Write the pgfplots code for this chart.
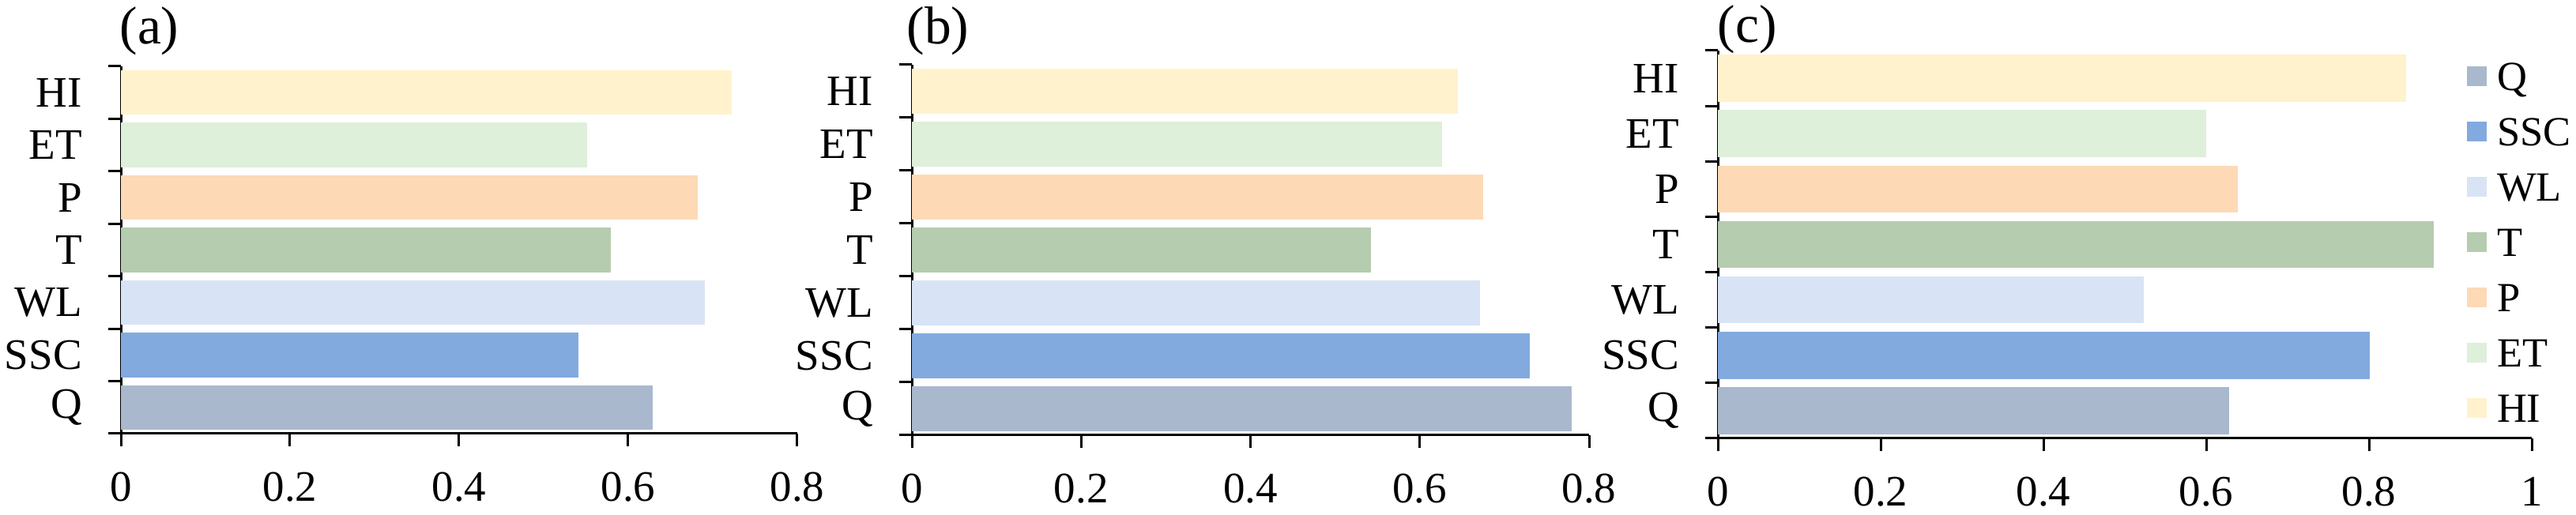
\documentclass[border=0pt]{standalone}
\usepackage{fontspec}
\setmainfont{Liberation Serif}
\usepackage{pgfplots}
\pgfplotsset{compat=1.18}
\definecolor{cQ}{RGB}{169,184,204}
\definecolor{cSSC}{RGB}{130,170,222}
\definecolor{cWL}{RGB}{216,228,245}
\definecolor{cT}{RGB}{181,204,174}
\definecolor{cP}{RGB}{253,217,181}
\definecolor{cET}{RGB}{222,239,218}
\definecolor{cHI}{RGB}{255,242,204}
\pgfplotsset{
  sq/.style={legend image code/.code={\fill[##1] (0pt,-2.5pt) rectangle (5pt,2.5pt);}},
  panel/.style={
    scale only axis, xbar,
    every axis plot/.append style={bar shift=0pt, bar width=0.85, draw=none},
    xmin=0, ymin=-0.5, ymax=6.5,
    axis lines*=left,
    axis line style={line width=0.6pt, black},
    tick align=outside, major tick length=3.3pt,
    tick style={line width=0.6pt, black},
    ytick={-0.5,0.5,1.5,2.5,3.5,4.5,5.5,6.5}, yticklabels={},
    extra y ticks={0,1,2,3,4,5,6},
    extra y tick labels={Q,SSC,WL,T,P,ET,HI},
    extra y tick style={major tick length=0pt, yticklabel style={xshift=-6.3pt}},
    ticklabel style={font=\fontsize{11}{13}\selectfont},
    xticklabel style={yshift=-3pt},
    /pgf/number format/assume math mode=true,
  }
}
\begin{document}
\begin{tikzpicture}
\useasboundingbox (0,0) rectangle (652pt,130.4pt);
% (a)
\begin{axis}[panel, at={(30.6pt,20.6pt)}, anchor=south west,
  width=171.2pt, height=93pt, xmax=0.8, xtick={0,0.2,0.4,0.6,0.8}]
\addplot[fill=cQ]   coordinates {(0.629,0)};
\addplot[fill=cSSC] coordinates {(0.541,1)};
\addplot[fill=cWL]  coordinates {(0.691,2)};
\addplot[fill=cT]   coordinates {(0.579,3)};
\addplot[fill=cP]   coordinates {(0.682,4)};
\addplot[fill=cET]  coordinates {(0.551,5)};
\addplot[fill=cHI]  coordinates {(0.722,6)};
\end{axis}
% (b)
\begin{axis}[panel, at={(230.8pt,20.2pt)}, anchor=south west,
  width=171.4pt, height=93.8pt, xmax=0.8, xtick={0,0.2,0.4,0.6,0.8}]
\addplot[fill=cQ]   coordinates {(0.779,0)};
\addplot[fill=cSSC] coordinates {(0.730,1)};
\addplot[fill=cWL]  coordinates {(0.671,2)};
\addplot[fill=cT]   coordinates {(0.542,3)};
\addplot[fill=cP]   coordinates {(0.675,4)};
\addplot[fill=cET]  coordinates {(0.626,5)};
\addplot[fill=cHI]  coordinates {(0.645,6)};
\end{axis}
% (c)
\begin{axis}[panel, at={(434.8pt,19.4pt)}, anchor=south west,
  width=206pt, height=98.2pt, xmax=1, xtick={0,0.2,0.4,0.6,0.8,1},
  legend style={draw=none, fill=none, at={(0.9194,0.9705)}, anchor=north west,
    inner sep=0pt, row sep=7pt, column sep=2.6pt,
    font=\fontsize{10.5}{12}\selectfont,
    nodes={inner sep=0pt, text height=7pt, text depth=0pt}},
  legend cell align=left]
\addplot[fill=cQ, sq]   coordinates {(0.628,0)};
\addlegendentry{Q}
\addplot[fill=cSSC, sq] coordinates {(0.801,1)};
\addlegendentry{SSC}
\addplot[fill=cWL, sq]  coordinates {(0.523,2)};
\addlegendentry{WL}
\addplot[fill=cT, sq]   coordinates {(0.880,3)};
\addlegendentry{T}
\addplot[fill=cP, sq]   coordinates {(0.639,4)};
\addlegendentry{P}
\addplot[fill=cET, sq]  coordinates {(0.600,5)};
\addlegendentry{ET}
\addplot[fill=cHI, sq]  coordinates {(0.846,6)};
\addlegendentry{HI}
\end{axis}
\node[font=\fontsize{13.5}{15}\selectfont] at (37.8pt,122.5pt) {(a)};
\node[font=\fontsize{13.5}{15}\selectfont] at (237.4pt,122.5pt) {(b)};
\node[font=\fontsize{13.5}{15}\selectfont] at (442.2pt,123pt) {(c)};
\end{tikzpicture}
\end{document}
